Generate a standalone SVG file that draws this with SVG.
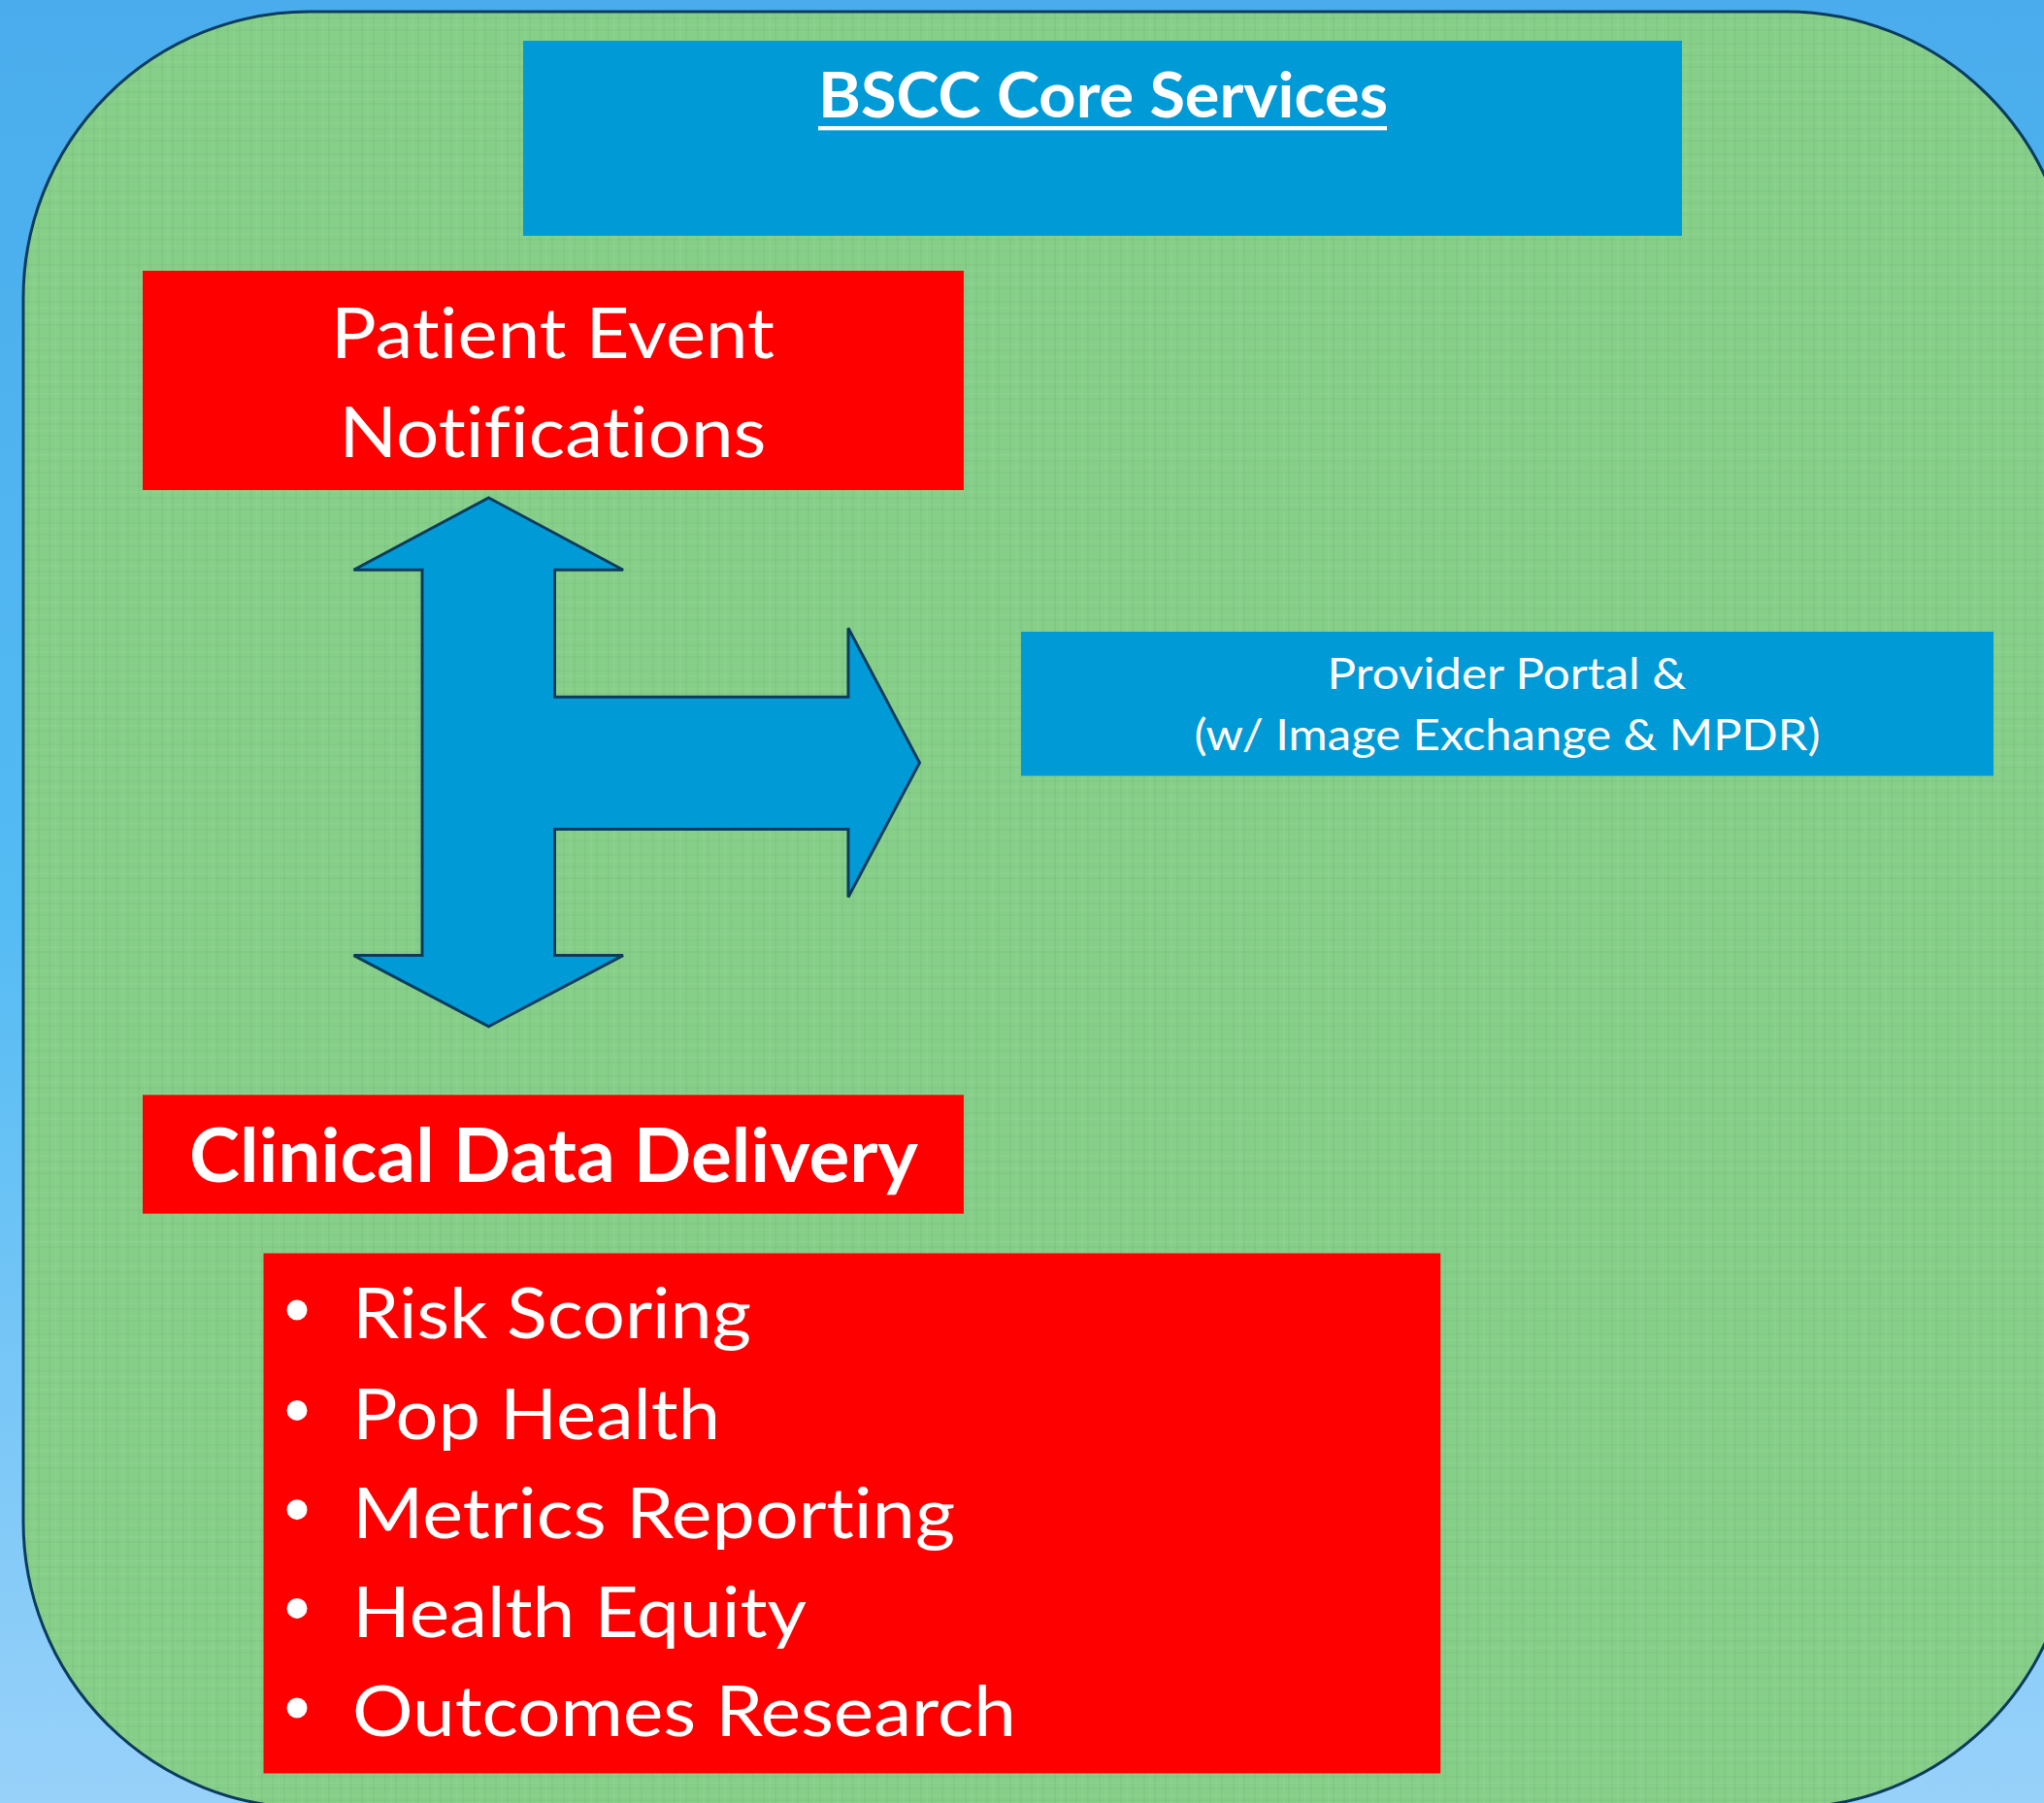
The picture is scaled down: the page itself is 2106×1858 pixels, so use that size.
<svg xmlns="http://www.w3.org/2000/svg" width="2106" height="1858" viewBox="0 0 2106 1858">
  <defs>
    <linearGradient id="bg" x1="0" y1="0" x2="0" y2="1">
      <stop offset="0" stop-color="#4AACEC"/>
      <stop offset="0.5" stop-color="#54BBF3"/>
      <stop offset="1" stop-color="#98D1FA"/>
    </linearGradient>
    <pattern id="linen" width="46" height="38" patternUnits="userSpaceOnUse">
      <rect width="46" height="38" fill="#86CF89"/>
      <path d="M5 0V38M17 0V38M29 0V38M40 0V38" stroke="#6FAF72" stroke-width="1" opacity="0.35"/>
      <path d="M0 7H46M0 19H46M0 31H46" stroke="#6FAF72" stroke-width="1" opacity="0.3"/>
      <path d="M11 0V38M35 0V38" stroke="#9BE09E" stroke-width="1" opacity="0.35"/>
      <path d="M0 13H46M0 26H46" stroke="#9BE09E" stroke-width="1" opacity="0.3"/>
    </pattern>
    <style>
      .t { font-family: Lato, "Open Sans", "Liberation Sans", sans-serif; fill: #FFFFFF; font-variant-ligatures: none; }
      .b { font-weight: 700; }
      .blue { fill: #009BD7; }
      .red { fill: #FF0000; }
      .arrow { fill: #009BD7; stroke: #0B3C5D; stroke-width: 3; stroke-linejoin: miter; }
    </style>
  </defs>

  <rect x="0" y="0" width="2106" height="1858" fill="url(#bg)"/>

  <g id="container">
    <rect x="24" y="12" width="2111" height="1851" rx="295" ry="295" fill="url(#linen)" stroke="#0B3C5D" stroke-width="3"/>
  </g>

  <g id="bscc-core-services">
    <rect class="blue" x="539" y="42" width="1194" height="201"/>
    <text class="t b" x="843" y="120.7" font-size="65" textLength="587" lengthAdjust="spacingAndGlyphs">BSCC Core Services</text>
    <rect x="843" y="130" width="586" height="4.3" fill="#FFFFFF"/>
  </g>

  <g id="patient-event-notifications">
    <rect class="red" x="147" y="279" width="846" height="226"/>
    <text class="t" x="341" y="368.7" font-size="72.6" textLength="457" lengthAdjust="spacingAndGlyphs">Patient Event</text>
    <text class="t" x="349.5" y="471.3" font-size="72.6" textLength="440" lengthAdjust="spacingAndGlyphs">Notifications</text>
  </g>

  <g id="connectors">
    <polygon class="arrow" points="503.5,513 642,587.3 571.5,587.3 571.5,718.3 874,718.3 874,647.3 947.5,786 874,924.5 874,854.4 571.5,854.4 571.5,984.6 642,984.6 503.5,1057.8 364.5,984.6 435,984.6 435,587.3 364.5,587.3"/>
  </g>

  <g id="provider-portal">
    <rect class="blue" x="1052" y="651" width="1002" height="148.5"/>
    <text class="t" x="1367.5" y="710" font-size="44" textLength="370" lengthAdjust="spacingAndGlyphs">Provider Portal &amp;</text>
    <text class="t" x="1230.5" y="773.3" font-size="44" textLength="645" lengthAdjust="spacingAndGlyphs">(w/ Image Exchange &amp; MPDR)</text>
  </g>

  <g id="clinical-data-delivery">
    <rect class="red" x="147" y="1128.3" width="846" height="122.4"/>
    <text class="t b" x="195" y="1217.7" font-size="76" textLength="751" lengthAdjust="spacingAndGlyphs">Clinical Data Delivery</text>
  </g>

  <g id="services-list">
    <rect class="red" x="271.5" y="1291.5" width="1212.7" height="536"/>
    <g fill="#FFFFFF">
      <circle cx="306" cy="1350" r="10.5"/>
      <circle cx="306" cy="1453.4" r="10.5"/>
      <circle cx="306" cy="1555.7" r="10.5"/>
      <circle cx="306" cy="1657.4" r="10.5"/>
      <circle cx="306" cy="1760" r="10.5"/>
    </g>
    <text class="t" x="363" y="1379.3" font-size="72.6" textLength="411" lengthAdjust="spacingAndGlyphs">Risk Scoring</text>
    <text class="t" x="363" y="1482.7" font-size="72.6" textLength="379" lengthAdjust="spacingAndGlyphs">Pop Health</text>
    <text class="t" x="363" y="1585" font-size="72.6" textLength="621" lengthAdjust="spacingAndGlyphs">Metrics Reporting</text>
    <text class="t" x="363" y="1686.7" font-size="72.6" textLength="468" lengthAdjust="spacingAndGlyphs">Health Equity</text>
    <text class="t" x="363" y="1789.3" font-size="72.6" textLength="684" lengthAdjust="spacingAndGlyphs">Outcomes Research</text>
  </g>
</svg>
